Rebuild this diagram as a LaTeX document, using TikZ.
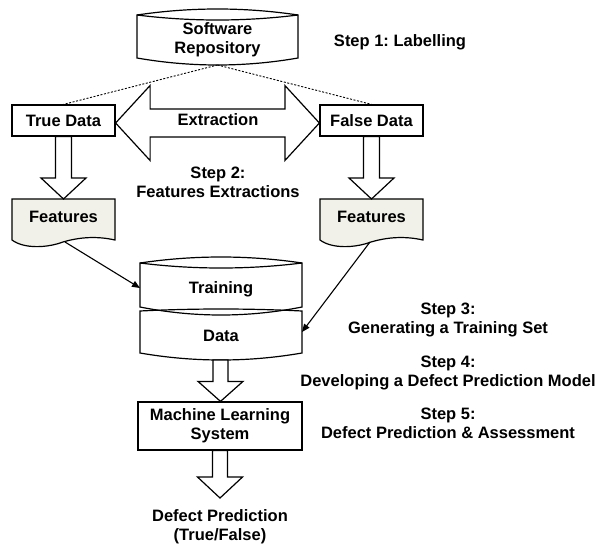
\documentclass[tikz,border=0pt]{standalone}
\usepackage{fontspec}
\setmainfont{Liberation Sans}
\usetikzlibrary{arrows.meta,calc}
\definecolor{featfill}{RGB}{241,241,233}
\frenchspacing
\begin{document}
\begin{tikzpicture}[x=1pt,y=-1pt,
  font=\bfseries\fontsize{16.5}{19}\selectfont,
  box/.style={draw, line width=1.2pt, fill=white, inner sep=0pt},
  lbl/.style={align=center, inner sep=0pt},
  shp/.style={draw, line width=1.2pt},
  blk/.style={draw, fill=white, line width=1.2pt, line join=miter},
  dotl/.style={line width=0.9pt, dash pattern=on 2pt off 1.6pt},
  arr/.style={line width=1.1pt, -{Triangle[length=8pt,width=6.5pt]}},
  docshape/.pic={\path[draw, fill=featfill, line width=1.2pt] (0,0) -- (103,0) -- (103,41)
      .. controls (85,37) and (68,38) .. (51,43)
      .. controls (35,49) and (12,50) .. (0,41) -- cycle;}
]
\useasboundingbox (0,0) rectangle (601,543);

% ---- Software repository (drum)
\path[shp, fill=white] (137,15) .. controls (190.7,7) and (244.3,7) .. (298,15)
  -- (298,58) .. controls (244.3,67.33) and (190.7,67.33) .. (137,58) -- cycle;
\path[shp] (137,15) .. controls (190.7,21.67) and (244.3,21.67) .. (298,15);
\node[lbl] (repo) at (217.5,40) {Software\\Repository};
\coordinate (repoB) at (217.5,65);

\node[lbl] (step1) at (400,42.7) {Step 1: Labelling};

% ---- data boxes
\node[box, minimum width=103pt, minimum height=31pt] (trueD) at (63.5,120.5) {True Data};
\node[box, minimum width=103pt, minimum height=31pt] (falseD) at (371.5,120.5) {False Data};

\draw[dotl] (repoB) -- (trueD.north);
\draw[dotl] (repoB) -- (falseD.north);

% ---- double block arrow
\draw[blk] let \p1=(trueD.east), \p2=(falseD.west), \n1={\y1-2.5pt} in
  (\x1,\n1) -- (\x1+34.5pt,\n1+37.5pt) -- (\x1+34.5pt,\n1+14pt) -- (\x2-34.5pt,\n1+14pt)
  -- (\x2-34.5pt,\n1+37.5pt) -- (\x2,\n1) -- (\x2-34.5pt,\n1-37.5pt) -- (\x2-34.5pt,\n1-14pt)
  -- (\x1+34.5pt,\n1-14pt) -- (\x1+34.5pt,\n1-37.5pt) -- cycle;
\node[lbl] (extr) at (218,120) {Extraction};

\node[lbl] (step2) at (218,182) {Step 2:\\Features Extractions};

% ---- features
\pic at (12,199) {docshape};
\pic at (320,199) {docshape};
\node[lbl] (featL) at (63.5,217) {Features};
\node[lbl] (featR) at (371.5,217) {Features};
\coordinate (featLtop) at (63.5,199);
\coordinate (featRtop) at (371.5,199);
\coordinate (featLbot) at (65,242);
\coordinate (featRbot) at (370,242);

% down block arrows
\draw[blk] let \p1=(trueD.south), \p2=(featLtop) in
  (\x1-8pt,\y1) -- (\x1-8pt,\y2+21pt) -- (\x1-22.5pt,\y2+21pt) -- (\x1,\y2)
  -- (\x1+22.5pt,\y2+21pt) -- (\x1+8pt,\y2+21pt) -- (\x1+8pt,\y1) -- cycle;
\draw[blk] let \p1=(falseD.south), \p2=(featRtop) in
  (\x1-8pt,\y1) -- (\x1-8pt,\y2+21pt) -- (\x1-22.5pt,\y2+21pt) -- (\x1,\y2)
  -- (\x1+22.5pt,\y2+21pt) -- (\x1+8pt,\y2+21pt) -- (\x1+8pt,\y1) -- cycle;

% ---- training / data
\path[shp] (140,263) .. controls (194,255) and (248,255) .. (302,263)
  -- (302,307) .. controls (248,317.67) and (194,317.67) .. (140,307) -- cycle;
\path[shp] (140,263) .. controls (194,269.67) and (248,269.67) .. (302,263);
\path[shp] (140,311) .. controls (194,308.33) and (248,308.33) .. (302,311)
  -- (302,353) .. controls (248,362.33) and (194,362.33) .. (140,353) -- cycle;
\node[lbl] (train) at (221,289.7) {Training};
\node[lbl] (data) at (221,336) {Data};
\coordinate (trainW) at (140,288);
\coordinate (dataE) at (302,332);
\coordinate (dataB) at (220.5,360);

\draw[arr] (featLbot) -- (trainW);
\draw[arr] (featRbot) -- (dataE);

% ---- machine learning
\node[box, minimum width=164pt, minimum height=48pt, align=center] (ml) at (220,426) {Machine Learning\\System};

\draw[blk] let \p1=(dataB), \p2=(ml.north) in
  (\x1-7.5pt,\y1) -- (\x1-7.5pt,\y2+20pt) -- (\x1-22.5pt,\y2+20pt) -- (\x1,\y2)
  -- (\x1+22.5pt,\y2+20pt) -- (\x1+7.5pt,\y2+20pt) -- (\x1+7.5pt,\y1) -- cycle;

\coordinate (predtop) at (220,498);
\draw[blk] let \p1=(ml.south), \p2=(predtop) in
  (\x1-7.5pt,\y1) -- (\x1-7.5pt,\y2+21pt) -- (\x1-22.5pt,\y2+21pt) -- (\x1,\y2)
  -- (\x1+22.5pt,\y2+21pt) -- (\x1+7.5pt,\y2+21pt) -- (\x1+7.5pt,\y1) -- cycle;

\node[lbl] (pred) at (220,527) {Defect Prediction\\(True/False)};

% ---- step labels
\node[lbl] (step3) at (448,320) {Step 3:\\Generating a Training Set};
\node[lbl] (step4) at (448,373) {Step 4:\\Developing a Defect Prediction Model};
\node[lbl] (step5) at (448,423.5) {Step 5:\\Defect Prediction \& Assessment};
\end{tikzpicture}
\end{document}
